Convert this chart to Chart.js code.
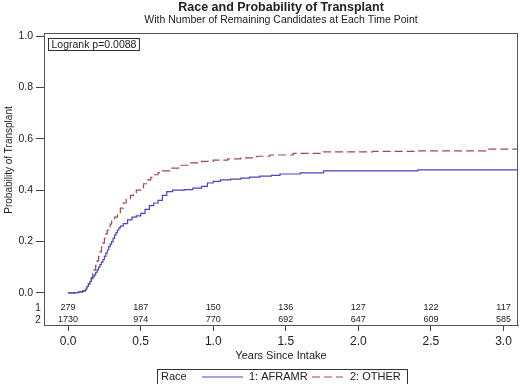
<!DOCTYPE html>
<html>
<head>
<meta charset="utf-8">
<script src="https://cdn.jsdelivr.net/npm/chart.js@4/dist/chart.umd.min.js"></script>
<style>
  html, body { margin: 0; padding: 0; background: #fff; }
  #wrap { width: 520px; height: 384px; position: relative; }
</style>
</head>
<body>
<div id="wrap"><canvas id="kmChart"></canvas></div>
<script>
// axis ticks
const xTicks = [0, 0.5, 1.0, 1.5, 2.0, 2.5, 3.0];
const yTicks = [0, 0.2, 0.4, 0.6, 0.8, 1.0];

// number at risk at each tick
const riskAframr = [279, 187, 150, 136, 127, 122, 117];
const riskOther = [1730, 974, 770, 692, 647, 609, 585];

// KM (1 - survival) step points
const timeAframr = [0, 0.07, 0.10, 0.12, 0.13, 0.14, 0.15, 0.16, 0.17, 0.18, 0.19, 0.20, 0.21, 0.22, 0.23, 0.24, 0.25, 0.26, 0.27, 0.28, 0.29, 0.30, 0.31, 0.32, 0.33, 0.34, 0.35, 0.36, 0.38, 0.41, 0.44, 0.47, 0.50, 0.53, 0.56, 0.59, 0.62, 0.65, 0.68, 0.72, 0.80, 0.86, 0.92, 0.96, 1.00, 1.05, 1.12, 1.19, 1.25, 1.32, 1.40, 1.46, 1.60, 1.76, 2.41, 3.10];
const probAframr = [0, 0.004, 0.008, 0.015, 0.025, 0.035, 0.045, 0.055, 0.062, 0.07, 0.08, 0.09, 0.10, 0.11, 0.12, 0.13, 0.142, 0.155, 0.167, 0.18, 0.19, 0.20, 0.212, 0.225, 0.235, 0.245, 0.253, 0.26, 0.27, 0.284, 0.295, 0.30, 0.31, 0.325, 0.34, 0.35, 0.36, 0.38, 0.394, 0.40, 0.402, 0.408, 0.415, 0.428, 0.434, 0.44, 0.443, 0.447, 0.451, 0.455, 0.458, 0.463, 0.467, 0.475, 0.479, 0.479];

const timeOther = [0, 0.07, 0.10, 0.12, 0.13, 0.14, 0.15, 0.16, 0.17, 0.18, 0.19, 0.20, 0.21, 0.22, 0.23, 0.24, 0.25, 0.26, 0.27, 0.28, 0.29, 0.30, 0.32, 0.34, 0.36, 0.38, 0.40, 0.43, 0.45, 0.47, 0.50, 0.52, 0.55, 0.57, 0.59, 0.62, 0.65, 0.70, 0.77, 0.84, 0.92, 1.00, 1.10, 1.19, 1.30, 1.39, 1.55, 1.76, 2.10, 2.41, 2.89, 3.10];
const probOther = [0, 0.004, 0.008, 0.015, 0.025, 0.035, 0.047, 0.06, 0.075, 0.09, 0.107, 0.125, 0.142, 0.16, 0.178, 0.195, 0.212, 0.23, 0.245, 0.257, 0.268, 0.28, 0.295, 0.31, 0.33, 0.35, 0.364, 0.38, 0.39, 0.40, 0.41, 0.425, 0.44, 0.45, 0.46, 0.468, 0.475, 0.486, 0.497, 0.506, 0.512, 0.517, 0.522, 0.526, 0.532, 0.537, 0.543, 0.549, 0.551, 0.553, 0.56, 0.56];

const blue = '#4646c4';
const red = '#a2474f';
const ink = '#222';
const font = '"Liberation Sans", Arial, sans-serif';

function pts(xs, ys) {
  return xs.map((x, i) => ({ x: x, y: ys[i] }));
}

// titles, at-risk table, logrank box, frame and the inline legend
const decorations = {
  id: 'decorations',
  afterDraw(chart) {
    const ctx = chart.ctx;
    const area = chart.chartArea;
    const xs = chart.scales.x;
    const ys = chart.scales.y;
    const midX = (area.left + area.right) / 2;
    ctx.save();

    // frame
    ctx.strokeStyle = '#555';
    ctx.lineWidth = 1;
    ctx.strokeRect(area.left + 0.5, area.top + 0.5, area.right - area.left - 1, area.bottom - area.top);

    ctx.fillStyle = ink;
    ctx.textAlign = 'center';
    ctx.textBaseline = 'middle';
    ctx.font = 'bold 12.5px ' + font;
    ctx.fillText('Race and Probability of Transplant', midX, 8);
    ctx.font = '10.5px ' + font;
    ctx.fillText('With Number of Remaining Candidates at Each Time Point', midX, 20);

    // y title
    ctx.save();
    ctx.translate(9, 160);
    ctx.rotate(-Math.PI / 2);
    ctx.font = '10px ' + font;
    ctx.fillText('Probability of Transplant', 0, 0);
    ctx.restore();

    // x title
    ctx.font = '11px ' + font;
    ctx.fillText('Years Since Intake', midX, 356);

    // number at risk rows
    const row1 = ys.getPixelForValue(0) + 15;
    const row2 = ys.getPixelForValue(0) + 27;
    ctx.font = '10px ' + font;
    ctx.textAlign = 'center';
    ctx.fillText('1', 38, row1);
    ctx.fillText('2', 38, row2);
    ctx.font = '9px ' + font;
    xTicks.forEach((t, i) => {
      const px = xs.getPixelForValue(t);
      ctx.fillText(String(riskAframr[i]), px, row1);
      ctx.fillText(String(riskOther[i]), px, row2);
    });

    // logrank box
    ctx.font = '10.5px ' + font;
    ctx.textAlign = 'left';
    const lr = 'Logrank p=0.0088';
    const lw = ctx.measureText(lr).width;
    ctx.strokeStyle = '#333';
    ctx.strokeRect(area.left + 4.5, area.top + 5.5, lw + 6, 12);
    ctx.fillText(lr, area.left + 7.5, area.top + 12);

    // legend
    const ly = 377;
    ctx.font = '11px ' + font;
    ctx.strokeStyle = '#333';
    ctx.strokeRect(157.5, 369.5, 250, 16);
    ctx.fillText('Race', 161, ly);
    ctx.lineWidth = 1.2;
    ctx.strokeStyle = blue;
    ctx.beginPath(); ctx.moveTo(202, ly); ctx.lineTo(243, ly); ctx.stroke();
    ctx.fillText(chart.data.datasets[0].label, 249, ly);
    ctx.strokeStyle = red;
    ctx.setLineDash([8, 4]);
    ctx.beginPath(); ctx.moveTo(312, ly); ctx.lineTo(343, ly); ctx.stroke();
    ctx.setLineDash([]);
    ctx.fillText(chart.data.datasets[1].label, 350, ly);

    ctx.restore();
  }
};

new Chart(document.getElementById('kmChart'), {
  type: 'line',
  data: {
    datasets: [
      {
        label: '1: AFRAMR',
        data: pts(timeAframr, probAframr),
        borderColor: blue,
        borderWidth: 1.2,
        pointRadius: 0,
        stepped: true,
        fill: false
      },
      {
        label: '2: OTHER',
        data: pts(timeOther, probOther),
        borderColor: red,
        borderWidth: 1.2,
        borderDash: [8, 4],
        pointRadius: 0,
        stepped: true,
        fill: false
      }
    ]
  },
  options: {
    responsive: true,
    maintainAspectRatio: false,
    animation: false,
    layout: { padding: { top: 33, right: 2, bottom: 0, left: 0 } },
    plugins: {
      legend: { display: false },
      tooltip: { enabled: false },
      title: { display: false }
    },
    scales: {
      x: {
        type: 'linear',
        min: -0.166,
        max: 3.10,
        afterBuildTicks: s => { s.ticks = xTicks.map(v => ({ value: v })); },
        afterFit: s => { s.height = 59; },
        ticks: {
          callback: v => Number(v).toFixed(1),
          font: { size: 12, family: font },
          color: ink,
          padding: 3,
          maxRotation: 0
        },
        grid: { drawOnChartArea: false, tickLength: 6, color: '#444' },
        border: { color: '#555' }
      },
      y: {
        type: 'linear',
        min: -0.125,
        max: 1.012,
        afterBuildTicks: s => { s.ticks = yTicks.map(v => ({ value: v })); },
        afterFit: s => { s.width = 44; },
        ticks: {
          callback: v => Number(v).toFixed(1),
          font: { size: 10.5, family: font },
          color: ink,
          padding: 3
        },
        grid: { drawOnChartArea: false, tickLength: 8, color: '#444' },
        border: { color: '#555' }
      }
    }
  },
  plugins: [decorations]
});
</script>
</body>
</html>
